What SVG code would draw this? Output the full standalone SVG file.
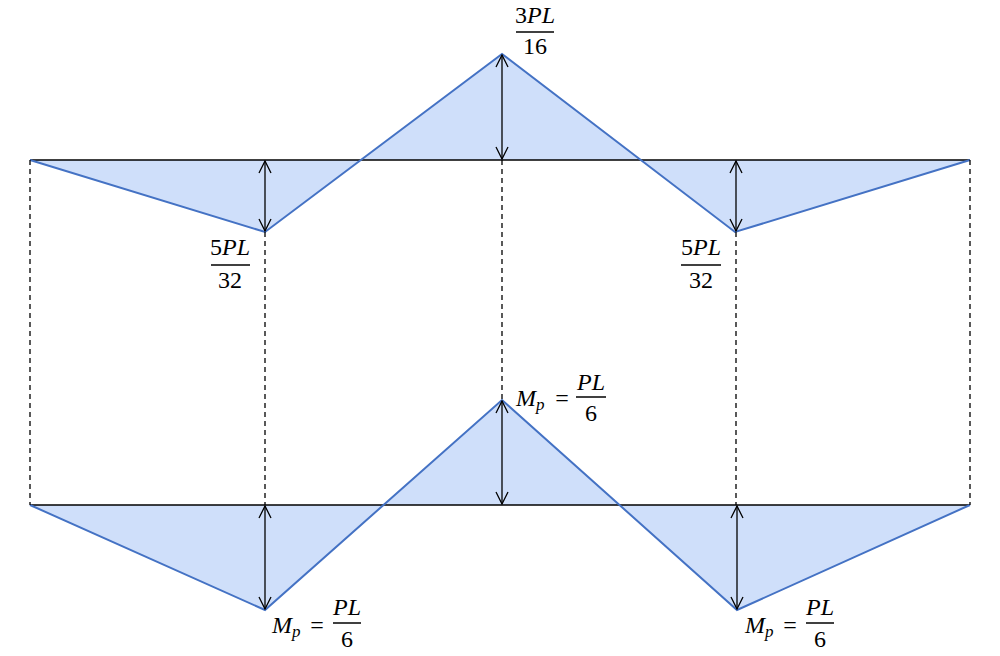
<svg xmlns="http://www.w3.org/2000/svg" width="1000" height="656" viewBox="0 0 1000 656">
<style>
.fill{fill:#cfdffa;stroke:none}
.blue{fill:none;stroke:#4472c4;stroke-width:2;stroke-linejoin:miter}
.base{stroke:#000;stroke-width:1.3}
.dash{stroke:#000;stroke-width:1.3;stroke-dasharray:5,4}
.arr{stroke:#000;stroke-width:1.3;marker-start:url(#ah);marker-end:url(#ah)}
.t{font-family:"Liberation Serif","DejaVu Serif",serif;font-size:24px;fill:#000}
.i{font-style:italic}
.bar{stroke:#000;stroke-width:1.5}
</style>
<defs>
<marker id="ah" viewBox="0 0 14 14" refX="13" refY="7" markerWidth="14" markerHeight="14" markerUnits="userSpaceOnUse" orient="auto-start-reverse">
<path d="M1,1 L13,7 L1,13" fill="none" stroke="#000" stroke-width="1.3"/>
</marker>
</defs>
<g id="top-diagram">
<polygon class="fill" points="30,160 265,232 361,160"/>
<polygon class="fill" points="361,160 502,54 641,160"/>
<polygon class="fill" points="641,160 735,232 970,160"/>
<line class="base" x1="30" y1="160" x2="970" y2="160"/>
<polyline class="blue" points="30,160 265,232 502,54 735,232 970,160"/>
</g>
<g id="bottom-diagram">
<polygon class="fill" points="30,505 265,610 383,505"/>
<polygon class="fill" points="383,505 502,400 620,505"/>
<polygon class="fill" points="620,505 737,610 970,505"/>
<line class="base" x1="30" y1="505" x2="970" y2="505"/>
<polyline class="blue" points="30,505 265,610 502,400 737,610 970,505"/>
</g>
<g id="connectors">
<line class="dash" x1="30" y1="160" x2="30" y2="505"/>
<line class="dash" x1="970" y1="160" x2="970" y2="505"/>
<line class="dash" x1="265" y1="232" x2="265" y2="505"/>
<line class="dash" x1="502" y1="160" x2="502" y2="400"/>
<line class="dash" x1="736" y1="232" x2="736" y2="505"/>
<line class="arr" x1="265" y1="161" x2="265" y2="231"/>
<line class="arr" x1="502" y1="55" x2="502" y2="159"/>
<line class="arr" x1="736" y1="161" x2="736" y2="231"/>
<line class="arr" x1="265" y1="506" x2="265" y2="609"/>
<line class="arr" x1="502" y1="401" x2="502" y2="504"/>
<line class="arr" x1="737" y1="506" x2="737" y2="609"/>
</g>
<g id="label-top">
<text class="t" x="535" y="23" text-anchor="middle">3<tspan class="i">PL</tspan></text>
<line class="bar" x1="516" y1="32" x2="554" y2="32"/>
<text class="t" x="535" y="54" text-anchor="middle">16</text>
</g>
<g id="label-left">
<text class="t" x="230" y="255" text-anchor="middle">5<tspan class="i">PL</tspan></text>
<line class="bar" x1="211" y1="265" x2="250" y2="265"/>
<text class="t" x="230" y="288" text-anchor="middle">32</text>
</g>
<g id="label-right">
<text class="t" x="701" y="255" text-anchor="middle">5<tspan class="i">PL</tspan></text>
<line class="bar" x1="681" y1="265" x2="721" y2="265"/>
<text class="t" x="701" y="288" text-anchor="middle">32</text>
</g>
<g id="label-mid">
<text class="t i" x="516" y="406">M<tspan font-size="17" dy="4">p</tspan></text>
<text class="t" x="562" y="406" text-anchor="middle" font-size="26">=</text>
<text class="t i" x="591" y="390" text-anchor="middle">PL</text>
<line class="bar" x1="576" y1="397" x2="606" y2="397"/>
<text class="t" x="591" y="421" text-anchor="middle">6</text>
</g>
<g id="label-bl">
<text class="t i" x="272" y="633">M<tspan font-size="17" dy="4">p</tspan></text>
<text class="t" x="317" y="633" text-anchor="middle" font-size="26">=</text>
<text class="t i" x="347" y="615" text-anchor="middle">PL</text>
<line class="bar" x1="333" y1="623" x2="361" y2="623"/>
<text class="t" x="347" y="647" text-anchor="middle">6</text>
</g>
<g id="label-br">
<text class="t i" x="745" y="633">M<tspan font-size="17" dy="4">p</tspan></text>
<text class="t" x="790" y="633" text-anchor="middle" font-size="26">=</text>
<text class="t i" x="820" y="615" text-anchor="middle">PL</text>
<line class="bar" x1="806" y1="623" x2="834" y2="623"/>
<text class="t" x="820" y="647" text-anchor="middle">6</text>
</g>
</svg>
